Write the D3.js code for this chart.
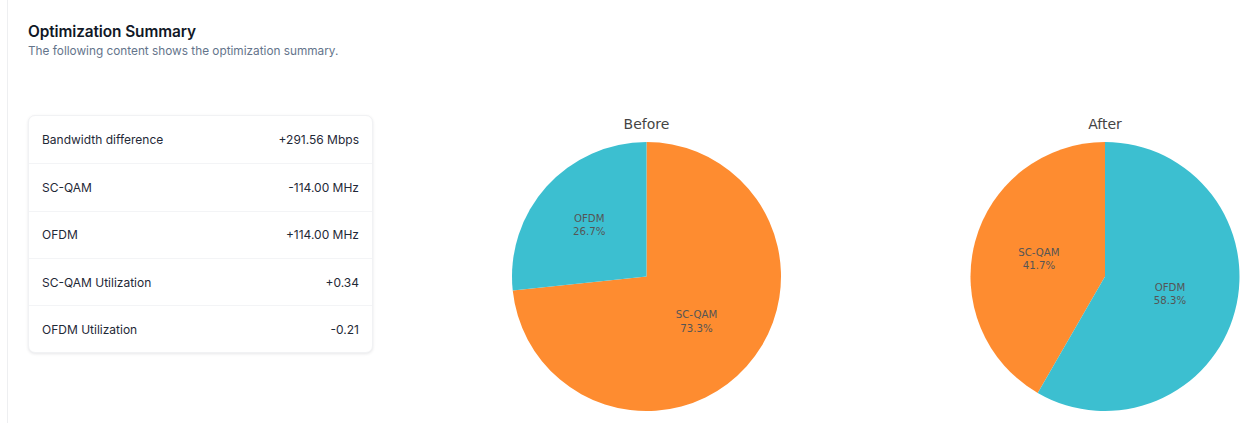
<!DOCTYPE html>
<html>
<head>
<meta charset="utf-8">
<script src="https://cdn.jsdelivr.net/npm/d3@7"></script>
<style>
  html, body { margin: 0; padding: 0; background: #fff; width: 1243px; height: 423px; overflow: hidden; }
  body { position: relative; font-family: Inter, "Noto Sans", sans-serif; }
  .frame { position: absolute; left: 7px; top: 0; width: 1px; height: 423px; background: #eeeff1; }
  .title { position: absolute; left: 28px; top: 22px; font-size: 15.4px; font-weight: 600; color: #111827; letter-spacing: -0.1px; }
  .subtitle { position: absolute; left: 28px; top: 44px; font-size: 11.8px; color: #64748b; }
  .card { position: absolute; left: 28px; top: 115px; width: 343px; border: 1px solid #f1f2f4; border-radius: 7px;
          box-shadow: 0 1px 3px rgba(15, 23, 42, 0.10); background: #fff; }
  .row { box-sizing: border-box; display: flex; justify-content: space-between; align-items: center; height: 47.3px;
         padding: 0 13px 0 13px; font-size: 12px; color: #1f2937; border-top: 1px solid #f3f4f6; }
  .row:first-child { border-top: none; }
  svg { position: absolute; left: 0; top: 0; }
</style>
</head>
<body>
<div class="frame"></div>
<div class="title">Optimization Summary</div>
<div class="subtitle">The following content shows the optimization summary.</div>
<div class="card" id="summary"></div>
<svg id="pies" width="1243" height="423"></svg>
<script>
// Summary table
const metricLabels = ["Bandwidth difference", "SC-QAM", "OFDM", "SC-QAM Utilization", "OFDM Utilization"];
const metricValues = ["+291.56 Mbps", "-114.00 MHz", "+114.00 MHz", "+0.34", "-0.21"];

// Channel bandwidth (MHz) before and after optimization
const channels = ["SC-QAM", "OFDM"];
const beforeMHz = [264, 96];
const afterMHz = [150, 210];
const pieTitles = ["Before", "After"];

const colors = d3.scaleOrdinal().domain(channels).range(["#fe8c30", "#3cbfd0"]);

const rows = d3.select("#summary").selectAll(".row")
  .data(metricLabels.map((l, i) => ({ label: l, value: metricValues[i] })))
  .join("div").attr("class", "row");
rows.append("span").text(d => d.label);
rows.append("span").text(d => d.value);

const svg = d3.select("#pies");
const radius = 134.5;
const centers = [[646.5, 276.5], [1105, 276.5]];
const pct = d3.format(".1%");

const pie = d3.pie().sort((a, b) => b.value - a.value).value(d => d.value);
const arc = d3.arc().innerRadius(0).outerRadius(radius);

[beforeMHz, afterMHz].forEach((vals, k) => {
  const data = channels.map((c, i) => ({ name: c, value: vals[i] }));
  const total = d3.sum(vals);
  const g = svg.append("g").attr("transform", `translate(${centers[k][0]},${centers[k][1]})`);

  g.append("text")
    .attr("x", 0).attr("y", -radius - 13)
    .attr("text-anchor", "middle")
    .attr("font-family", "'DejaVu Sans', Verdana, sans-serif")
    .attr("font-size", 14)
    .attr("fill", "#444")
    .text(pieTitles[k]);

  const arcs = pie(data);
  g.selectAll("path").data(arcs).join("path")
    .attr("d", arc)
    .attr("fill", d => colors(d.data.name));

  // inside labels: centred on the largest circle inscribed in each slice
  const lab = g.selectAll("text.lab").data(arcs).join("text")
    .attr("class", "lab")
    .attr("text-anchor", "middle")
    .attr("font-family", "'DejaVu Sans', Verdana, sans-serif")
    .attr("font-size", 10.2)
    .attr("fill", "#555")
    .attr("transform", d => {
      const frac = d.data.value / total;
      const half = Math.PI * Math.min(frac, 0.5);
      const rIns = Math.min(1 / (1 + 1 / Math.sin(half)), 0.5);
      const mid = (d.startAngle + d.endAngle) / 2;
      const dist = radius * (1 - rIns);
      return `translate(${dist * Math.sin(mid)},${-dist * Math.cos(mid)})`;
    });
  lab.append("tspan").attr("x", 0).attr("y", -3).text(d => d.data.name);
  lab.append("tspan").attr("x", 0).attr("y", 10.5).text(d => pct(d.data.value / total));
});
</script>
</body>
</html>
